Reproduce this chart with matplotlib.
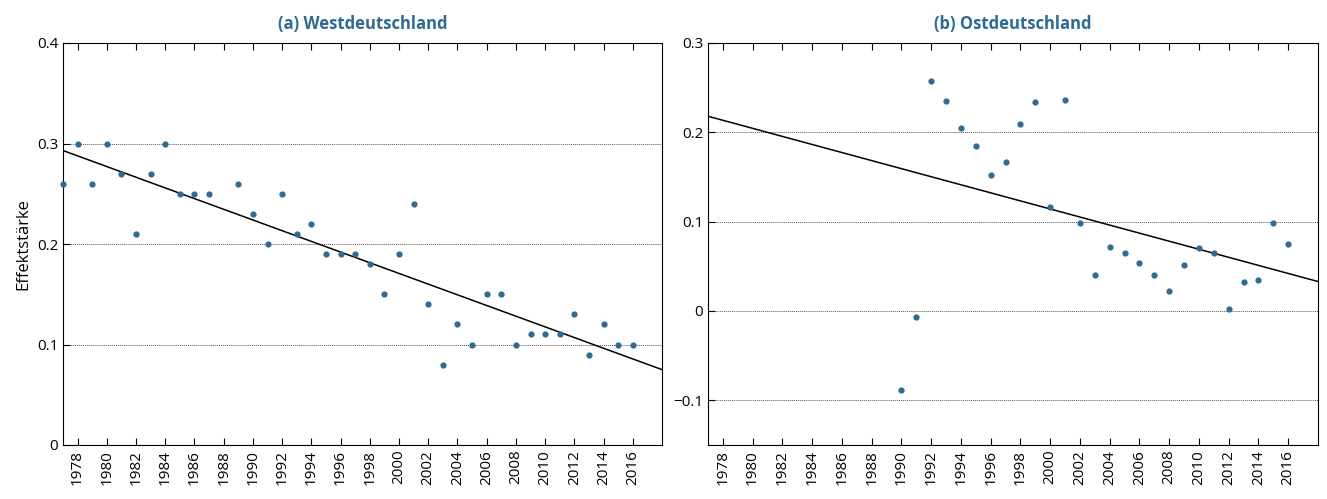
import numpy as np
import matplotlib.pyplot as plt

plt.rcParams['font.family'] = ['Open Sans', 'DejaVu Sans']

west_years = [1977, 1978, 1979, 1980, 1981, 1982, 1983, 1984, 1985, 1986, 1987,
              1989, 1990, 1991, 1992, 1993, 1994, 1995, 1996, 1997, 1998, 1999,
              2000, 2001, 2002, 2003, 2004, 2005, 2006, 2007, 2008, 2009, 2010,
              2011, 2012, 2013, 2014, 2015, 2016]
west_vals = [0.26, 0.30, 0.26, 0.30, 0.27, 0.21, 0.27, 0.30, 0.25, 0.25, 0.25,
             0.26, 0.23, 0.20, 0.25, 0.21, 0.22, 0.19, 0.19, 0.19, 0.18, 0.15,
             0.19, 0.24, 0.14, 0.08, 0.12, 0.10, 0.15, 0.15, 0.10, 0.11, 0.11,
             0.11, 0.13, 0.09, 0.12, 0.10, 0.10]

east_years = list(range(1990, 2017))
east_vals = [-0.088, -0.007, 0.258, 0.235, 0.205, 0.185, 0.152, 0.167, 0.209,
             0.234, 0.116, 0.236, 0.099, 0.040, 0.072, 0.065, 0.054, 0.040,
             0.022, 0.052, 0.071, 0.065, 0.002, 0.033, 0.035, 0.098, 0.075]

west_trend = [0.293, 0.075]
east_trend = [0.218, 0.033]
trend_x = [1977, 2018]

blue = "#2e6a93"
fig = plt.figure(figsize=(13.27, 4.99), dpi=100)
ax1 = fig.add_axes([63/1327, 1-445/499, 599/1327, 402/499])
ax2 = fig.add_axes([708/1327, 1-445/499, 610/1327, 402/499])

panels = [
    (ax1, west_years, west_vals, west_trend, "(a) Westdeutschland", (0, 0.4), [0, 0.1, 0.2, 0.3, 0.4]),
    (ax2, east_years, east_vals, east_trend, "(b) Ostdeutschland", (-0.15, 0.3), [-0.1, 0, 0.1, 0.2, 0.3]),
]
for ax, xs, ys, tr, title, ylim, yt in panels:
    ax.plot(trend_x, tr, color="black", lw=1.1, zorder=2)
    ax.scatter(xs, ys, s=12, color=blue, zorder=3, clip_on=False)
    ax.set_xlim(1977, 2018)
    ax.set_ylim(*ylim)
    ax.set_yticks(yt)
    ax.set_yticklabels(["\u22120.1" if v == -0.1 else ("0" if v == 0 else f"{v:.1f}") for v in yt])
    ax.set_xticks(range(1978, 2017, 2))
    ax.set_xticklabels([str(y) for y in range(1978, 2017, 2)], rotation=90)
    ax.tick_params(direction="in", top=True, length=5, labelsize=11)
    ax.tick_params(axis="y", right=False)
    for v in yt:
        if v != ylim[0] and v != ylim[1]:
            ax.axhline(v, color="#555555", ls=(0, (1, 1)), lw=0.7, zorder=1)
    ax.set_title(title, color=blue, fontsize=12, fontweight="bold", pad=10)

ax1.set_ylabel("Effektstärke", fontsize=12)
fig.savefig("out.png")
